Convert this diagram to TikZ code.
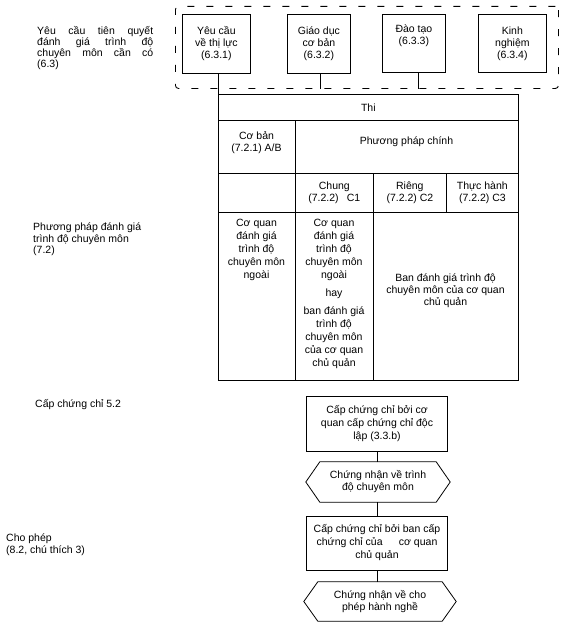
\documentclass[tikz,border=0pt]{standalone}
\usepackage{fontspec}
\setmainfont{Liberation Sans}
\usetikzlibrary{calc}
\begin{document}
\begin{tikzpicture}[x=1pt,y=-1pt,
  every node/.style={font=\fontsize{10.5}{12}\selectfont, inner sep=0pt},
  cell/.style={draw, line width=0.7pt, anchor=north west},
  ctext/.style={align=center},
  lbl/.style={align=left, anchor=north west},
  topbox/.style={draw, line width=0.8pt, align=center, anchor=north west},
  flowbox/.style={draw, line width=0.8pt, align=center},
  hexnode/.style={align=center},
  hexline/.style={line width=0.8pt},
  conn/.style={line width=0.7pt},
  frame/.style={draw, dash pattern=on 7pt off 12pt, line width=0.9pt, rounded corners=3pt, anchor=north west}
]
\useasboundingbox (0,0) rectangle (576,626);

% left labels
\node[lbl, font=\fontsize{10.5}{11}\selectfont] (req) at (37,26)
  {\makebox[116pt][s]{Yêu cầu tiên quyết}\\\makebox[116pt][s]{đánh giá trình độ}\\\makebox[116pt][s]{chuyên môn cần có}\\(6.3)};
\node[lbl, font=\fontsize{10.5}{11.5}\selectfont] (meth) at (33,223)
  {Phương pháp đánh giá\\trình độ chuyên môn\\(7.2)};
\node[anchor=west] (cert) at (35,405) {Cấp chứng chỉ 5.2};
\node[lbl, font=\fontsize{10.5}{11.5}\selectfont] (perm) at (6,534) {Cho phép\\(8.2, chú thích 3)};

% dashed frame and top boxes
\node[frame, minimum width=383pt, minimum height=82pt] (frame) at (175,6) {};
\node[topbox, minimum width=68pt, minimum height=59pt] (b1) at (182,14) {Yêu cầu\\về thị lực\\(6.3.1)};
\node[topbox, minimum width=63pt, minimum height=59pt] (b2) at (287,14) {Giáo dục\\cơ bản\\(6.3.2)};
\node[draw, line width=0.8pt, anchor=north west, minimum width=63pt, minimum height=58pt] (b3) at (382,14) {};
\node[ctext, anchor=north] (b3t) at (b3.north) [yshift=-11pt] {Đào tạo\\(6.3.3)};
\node[topbox, minimum width=68pt, minimum height=58pt] (b4) at (478,14) {Kinh\\nghiệm\\(6.3.4)};

\draw[conn] ([xshift=2pt]b1.south) -- ([xshift=2pt]b1.south |- frame.south);
\draw[conn] ([xshift=1.5pt]b2.south) -- ([xshift=1.5pt]b2.south |- frame.south);
\draw[conn] ([xshift=4.5pt]b3.south) -- ([xshift=4.5pt]b3.south |- frame.south);

% table
\node[cell, minimum width=300pt, minimum height=26pt] (thi) at (218,94) {Thi};
\draw[conn] (thi.north west |- frame.south) -- (thi.north west);
\node[cell, minimum width=77pt, minimum height=53pt] (cb) at (218,120) {};
\node[ctext] (cbt) at (256.5,143) {Cơ bản\\(7.2.1) A/B};
\node[cell, minimum width=223pt, minimum height=53pt] (ppc) at (295,120) {};
\node (ppct) at (406.5,142) {Phương pháp chính};
\node[cell, minimum width=77pt, minimum height=39pt] (e1) at (218,173) {};
\node[cell, ctext, minimum width=78pt, minimum height=39pt] (chung) at (295,173) {Chung\\(7.2.2)\enspace\ C1};
\node[cell, ctext, minimum width=73pt, minimum height=39pt] (rieng) at (373,173) {Riêng\\(7.2.2) C2};
\node[cell, ctext, minimum width=72pt, minimum height=39pt] (thuc) at (446,173) {Thực hành\\(7.2.2) C3};
\node[cell, minimum width=77pt, minimum height=168pt] (r4a) at (218,212) {};
\node[ctext, anchor=north, font=\fontsize{10.5}{13}\selectfont] (r4at) at (256.5,219) {Cơ quan\\đánh giá\\trình độ\\chuyên môn\\ngoài};
\node[cell, minimum width=78pt, minimum height=168pt] (r4b) at (295,212) {};
\node[ctext, anchor=north, font=\fontsize{10.5}{13}\selectfont] (r4bt) at (334,219) {Cơ quan\\đánh giá\\trình độ\\chuyên môn\\ngoài\\[5pt]hay\\[5pt]ban đánh giá\\trình độ\\chuyên môn\\của cơ quan\\chủ quản};
\node[cell, minimum width=145pt, minimum height=168pt] (r4c) at (373,212) {};
\node[ctext] (r4ct) at (445.5,291) {Ban đánh giá trình độ\\chuyên môn của cơ quan\\chủ quản};

% flow
\node[flowbox, minimum width=141pt, minimum height=55pt, font=\fontsize{10.5}{13}\selectfont] (c1) at (377,423.5) {Cấp chứng chỉ bởi cơ\\quan cấp chứng chỉ độc\\lập (3.3.b)};
\node[hexnode, minimum width=116pt, minimum height=40pt] (h1) at (378,482) {Chứng nhận về trình\\độ chuyên môn};
\draw[hexline] (h1.north west) -- (h1.north east) -- ([xshift=14pt]h1.east) -- (h1.south east) -- (h1.south west) -- ([xshift=-14pt]h1.west) -- cycle;
\node[flowbox, minimum width=141pt, minimum height=54pt, font=\fontsize{10.5}{13}\selectfont] (c2) at (377,543) {Cấp chứng chỉ bởi ban cấp\\chứng chỉ của \quad\ cơ quan\\chủ quản};
\node[hexnode, minimum width=124pt, minimum height=39pt] (h2) at (380,601.5) {Chứng nhận về cho\\phép hành nghề};
\draw[hexline] (h2.north west) -- (h2.north east) -- ([xshift=14pt]h2.east) -- (h2.south east) -- (h2.south west) -- ([xshift=-14pt]h2.west) -- cycle;

\draw[conn] (c1.south) -- (c1.south |- h1.north);
\draw[conn] (c1.south |- h1.south) -- (c2.north);
\draw[conn] (c2.south) -- (c2.south |- h2.north);
\end{tikzpicture}
\end{document}
